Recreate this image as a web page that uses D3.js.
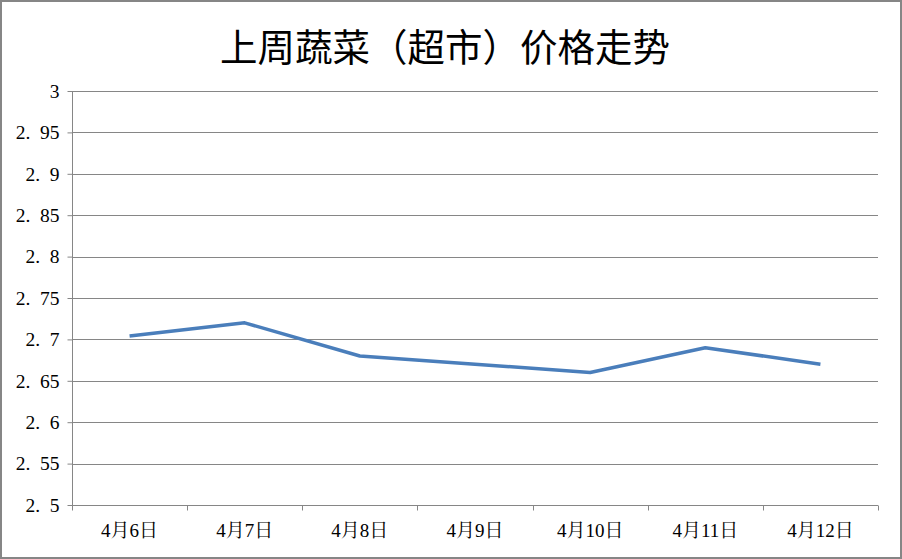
<!DOCTYPE html>
<html><head><meta charset="utf-8">
<script src="https://cdn.jsdelivr.net/npm/d3@7"></script>
<style>body{margin:0;background:#fff}svg{display:block}</style>
</head><body>
<script>
const categories = ["4月6日","4月7日","4月8日","4月9日","4月10日","4月11日","4月12日"];
const values = [2.704, 2.72, 2.68, 2.67, 2.66, 2.69, 2.67];
const yTicks = [2.5, 2.55, 2.6, 2.65, 2.7, 2.75, 2.8, 2.85, 2.9, 2.95, 3];
const title = "上周蔬菜（超市）价格走势";

const W = 902, H = 559;
const m = {left: 72, right: 24, top: 91, bottom: 54};
const serif = '"Liberation Serif", "Noto Serif CJK SC", serif';
const svg = d3.select("body").append("svg").attr("width", W).attr("height", H);

svg.append("rect").attr("x", 1).attr("y", 1).attr("width", W - 2).attr("height", H - 2)
  .attr("fill", "#fff").attr("stroke", "#868686").attr("stroke-width", 2);

svg.append("text").attr("x", 445).attr("y", 61).attr("text-anchor", "middle")
  .style("font-family", '"Noto Sans CJK SC", sans-serif').style("font-size", "38px")
  .attr("textLength", 450).attr("lengthAdjust", "spacingAndGlyphs")
  .attr("fill", "#000").text(title);

const x = d3.scaleBand().domain(categories).range([m.left, W - m.right]);
const y = d3.scaleLinear().domain([2.5, 3]).range([H - m.bottom, m.top]);

const fmt = v => String(+v.toFixed(2)).replace(".", ".\u2002");

// grid
svg.append("g").selectAll("line").data(yTicks.filter(t => t > 2.5)).join("line")
  .attr("x1", m.left).attr("x2", W - m.right)
  .attr("y1", d => Math.round(y(d)) + 0.5).attr("y2", d => Math.round(y(d)) + 0.5)
  .attr("stroke", "#868686").attr("stroke-width", 1);

const yAxis = svg.append("g").attr("transform", `translate(${m.left + 0.5},0)`)
  .call(d3.axisLeft(y).tickValues(yTicks).tickSize(5).tickPadding(8).tickFormat(fmt));
yAxis.selectAll("text").style("font-family", serif).style("font-size", "19.5px").attr("fill", "#000");
yAxis.selectAll("path, line").attr("stroke", "#868686");
yAxis.select(".domain").attr("d", `M0,${m.top}V${H - m.bottom}`);

const xAxis = svg.append("g").attr("transform", `translate(0,${Math.round(H - m.bottom) + 0.5})`)
  .call(d3.axisBottom(x).tickSize(0).tickPadding(18));
xAxis.selectAll("text").style("font-family", serif).style("font-size", "19px").attr("fill", "#000");
xAxis.selectAll("path").attr("stroke", "#868686");
xAxis.select(".domain").attr("d", `M${m.left},0H${W - m.right}`);
const bounds = categories.map(c => x(c)).concat([W - m.right]);
xAxis.append("g").selectAll("line").data(bounds).join("line")
  .attr("x1", d => Math.round(d) + 0.5).attr("x2", d => Math.round(d) + 0.5)
  .attr("y1", 0).attr("y2", 5).attr("stroke", "#868686");

const line = d3.line().x((d, i) => x(categories[i]) + x.bandwidth() / 2).y(d => y(d));
svg.append("path").datum(values).attr("d", line).attr("fill", "none")
  .attr("stroke", "#4a7ebb").attr("stroke-width", 3.5).attr("stroke-linejoin", "round");
</script>
</body></html>
